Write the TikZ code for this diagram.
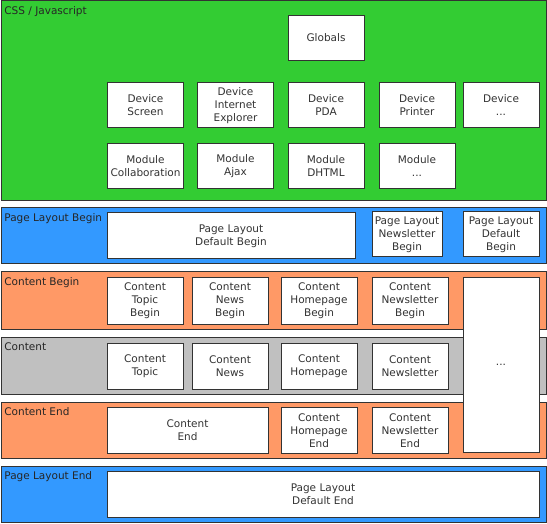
\documentclass[tikz,border=0pt]{standalone}
\usepackage{fontspec}
\setmainfont{DejaVu Sans}
\definecolor{cssgreen}{HTML}{33CC33}
\definecolor{layoutblue}{HTML}{3399FF}
\definecolor{contentorange}{HTML}{FF9966}
\definecolor{contentgray}{HTML}{C0C0C0}
\definecolor{edge}{HTML}{333333}

\begin{document}
\begin{tikzpicture}[x=1pt,y=-1pt, thick]
                \tikzstyle{every node}=[font=\fontsize{10.5}{13}\selectfont, text=edge]
                \tikzstyle{band}=[draw=edge, line width=1pt]
                \tikzstyle{bandlabel}=[anchor=north west, inner sep=2pt, text=black!85]
                \tikzstyle{box}=[draw=edge, fill=white, line width=1pt, align=center, inner sep=0pt, minimum width=76, minimum height=45]
                \useasboundingbox (0,0) rectangle (547,524);
                % bands
                \draw [band, fill=cssgreen] (1,1) rectangle (546,201);
                \draw [band, fill=layoutblue] (1,208) rectangle (546,264);
                \draw [band, fill=contentorange] (1,272) rectangle (546,329);
                \draw [band, fill=contentgray] (1,337) rectangle (546,394);
                \draw [band, fill=contentorange] (1,402) rectangle (546,458);
                \draw [band, fill=layoutblue] (1,466) rectangle (546,522);
                \node [bandlabel] (lcss) at (2,4) {CSS / Javascript};
                \node [bandlabel] (lplb) at (2,211) {Page Layout Begin};
                \node [bandlabel] (lcb) at (2,275) {Content Begin};
                \node [bandlabel] (lc) at (2,340) {Content};
                \node [bandlabel] (lce) at (2,405) {Content End};
                \node [bandlabel] (lple) at (2,469) {Page Layout End};
                % css / javascript
                \node [box] (globals) at (326,38) {Globals};
                \foreach \x/\t [count=\i] in {145.5/{Device\\Screen}, 235.5/{Device\\Internet\\Explorer}, 326/{Device\\PDA}, 417/{Device\\Printer}, 501/{Device\\...}}
                    {
                        \node [box] (device\i) at (\x,105.5) {\t};
                    }
                \foreach \x/\t [count=\i] in {145.5/{Module\\Collaboration}, 235.5/{Module\\Ajax}, 326/{Module\\DHTML}, 417/{Module\\...}}
                    {
                        \node [box] (module\i) at (\x,166.5) {\t};
                    }
                % page layout begin
                \node [box, minimum width=248, minimum height=46] (plbdefault) at (231,236) {Page Layout\\Default Begin};
                \node [box, minimum width=70] (plbnews) at (407,234.5) {Page Layout\\Newsletter\\Begin};
                \node [box] (plbdefault2) at (501,234.5) {Page Layout\\Default\\Begin};
                % content
                \foreach \x/\t [count=\i] in {145/Topic, 230/News, 319/Homepage, 410/Newsletter}
                    {
                        \node [box, minimum height=46] (cbegin\i) at (\x,301) {Content\\\t\\Begin};
                        \node [box, minimum height=46] (content\i) at (\x,366) {Content\\\t};
                    }
                \node [box, minimum height=174] (more) at (501,365) {...};
                \node [box, minimum width=161, minimum height=46] (cend) at (187.5,430) {Content\\End};
                \node [box, minimum height=46] (cendhome) at (319,430.5) {Content\\Homepage\\End};
                \node [box, minimum height=46] (cendnews) at (410,430.5) {Content\\Newsletter\\End};
                % page layout end
                \node [box, minimum width=432, minimum height=46] (pledefault) at (323,494) {Page Layout\\Default End};
            \end{tikzpicture}
\end{document}
